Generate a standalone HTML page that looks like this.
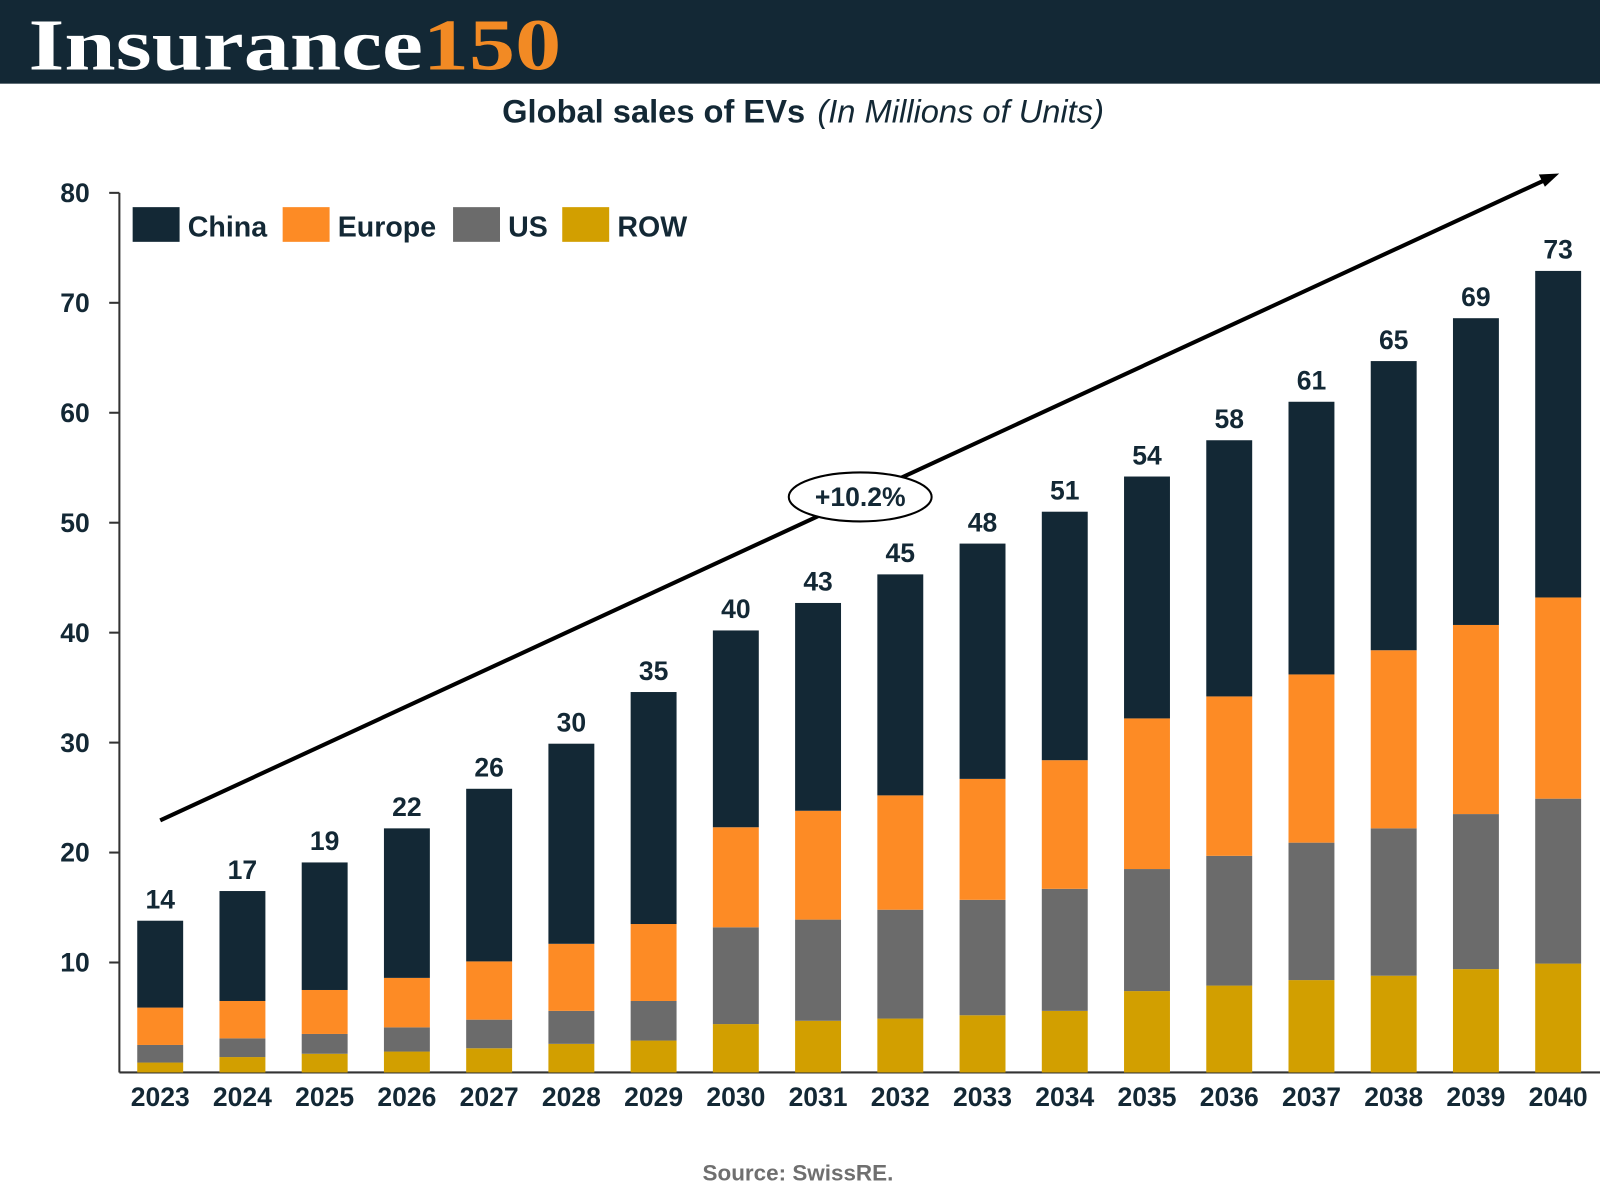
<!DOCTYPE html>
<html><head><meta charset="utf-8"><style>
html,body{margin:0;padding:0;background:#fff;width:1600px;height:1200px;overflow:hidden}
svg{display:block}
text{font-family:"Liberation Sans","DejaVu Sans",sans-serif}
</style></head><body>
<svg id="chart" width="1600" height="1200" viewBox="0 0 1568 1176">
<rect x="0" y="0" width="1568" height="82" fill="#132835"/>
<text x="28" y="68" font-weight="bold" font-size="72" fill="#fff" textLength="522" lengthAdjust="spacingAndGlyphs" style="font-family:'Liberation Serif',serif">Insurance<tspan fill="#f28a24">150</tspan></text>
<text x="787" y="120" text-anchor="middle" font-size="32" fill="#132835"><tspan font-weight="bold">Global sales of EVs</tspan><tspan font-style="italic" dx="12">(In Millions of Units)</tspan></text>
<g id="axes"></g>
<g id="bars"></g>
<line x1="157" y1="804" x2="1515" y2="176" stroke="#000" stroke-width="4"/>
<polygon points="1528,170 1508,171 1514,183" fill="#000"/>
<ellipse cx="843" cy="487" rx="70" ry="24" fill="#fff" stroke="#000" stroke-width="2"/>
<text x="843" y="496" text-anchor="middle" font-size="26" font-weight="bold" fill="#132835">+10.2%</text>
<g>
<rect x="130" y="203" width="46" height="34" fill="#132835"/>
<text x="184" y="232" font-size="28" font-weight="bold" fill="#132835">China</text>
<rect x="277" y="203" width="46" height="34" fill="#fd8b25"/>
<text x="331" y="232" font-size="28" font-weight="bold" fill="#132835">Europe</text>
<rect x="444" y="203" width="46" height="34" fill="#6b6b6b"/>
<text x="498" y="232" font-size="28" font-weight="bold" fill="#132835">US</text>
<rect x="551" y="203" width="46" height="34" fill="#d29f00"/>
<text x="605" y="232" font-size="28" font-weight="bold" fill="#132835">ROW</text>
</g>
<text x="782" y="1157" text-anchor="middle" font-size="22" font-weight="bold" fill="#6f6f6f">Source: SwissRE.</text>
</svg>
<script>
const years=["2023","2024","2025","2026","2027","2028","2029","2030","2031","2032","2033","2034","2035","2036","2037","2038","2039","2040"];
const rowVals=[0.9,1.4,1.7,1.9,2.2,2.6,2.9,4.4,4.7,4.9,5.2,5.6,7.4,7.9,8.4,8.8,9.4,9.9];
const usVals=[1.6,1.7,1.8,2.2,2.6,3.0,3.6,8.8,9.2,9.9,10.5,11.1,11.1,11.8,12.5,13.4,14.1,15.0];
const europeVals=[3.4,3.4,4.0,4.5,5.3,6.1,7.0,9.1,9.9,10.4,11.0,11.7,13.7,14.5,15.3,16.2,17.2,18.3];
const chinaVals=[7.9,10.0,11.6,13.6,15.7,18.2,21.1,17.9,18.9,20.1,21.4,22.6,22.0,23.3,24.8,26.3,27.9,29.7];
const yTicks=[10,20,30,40,50,60,70,80];
const NS="http://www.w3.org/2000/svg";
const y0=1051,pxPerUnit=10.775,x0=157,step=(1527-157)/17,bw=45;
const Y=v=>y0-v*pxPerUnit, X=i=>x0+i*step;
function mk(tag,attrs,parent){const e=document.createElementNS(NS,tag);for(const k in attrs)e.setAttribute(k,attrs[k]);parent.appendChild(e);return e;}
const axes=document.getElementById('axes'),bars=document.getElementById('bars');
const ya=mk('line',{x1:117,y1:Y(80),x2:117,y2:y0,stroke:'#333','stroke-width':2},axes);


const xa=mk('line',{x1:117,y1:y0,x2:1568,y2:y0,stroke:'#333','stroke-width':2},axes);


yTicks.forEach(t=>{
  const tk=mk('line',{x1:107,y1:Y(t),x2:117,y2:Y(t),stroke:'#333','stroke-width':2},axes);
  
  
  const tl=mk('text',{x:88,y:Y(t)+9,'text-anchor':'end','font-size':26,'font-weight':'bold',fill:'#132835'},axes);
  tl.textContent=t;
  
  
});
const series=[[rowVals,'#d29f00','row'],[usVals,'#6b6b6b','us'],[europeVals,'#fd8b25','europe'],[chinaVals,'#132835','china']];
years.forEach((yr,i)=>{
  let acc=0;
  series.forEach(([vals,col,nm])=>{
    const v=vals[i];
    const r=mk('rect',{x:X(i)-bw/2,y:Y(acc+v),width:bw,height:v*pxPerUnit,fill:col},bars);
    
    
    acc+=v;
  });
  const tl=mk('text',{x:X(i),y:Y(acc)-12,'text-anchor':'middle','font-size':26,'font-weight':'bold',fill:'#132835'},bars);
  tl.textContent=Math.round(acc);
  
  
  const xl=mk('text',{x:X(i),y:1084,'text-anchor':'middle','font-size':26,'font-weight':'bold',fill:'#132835'},axes);
  xl.textContent=yr;
  
  
});
</script>
</body></html>
